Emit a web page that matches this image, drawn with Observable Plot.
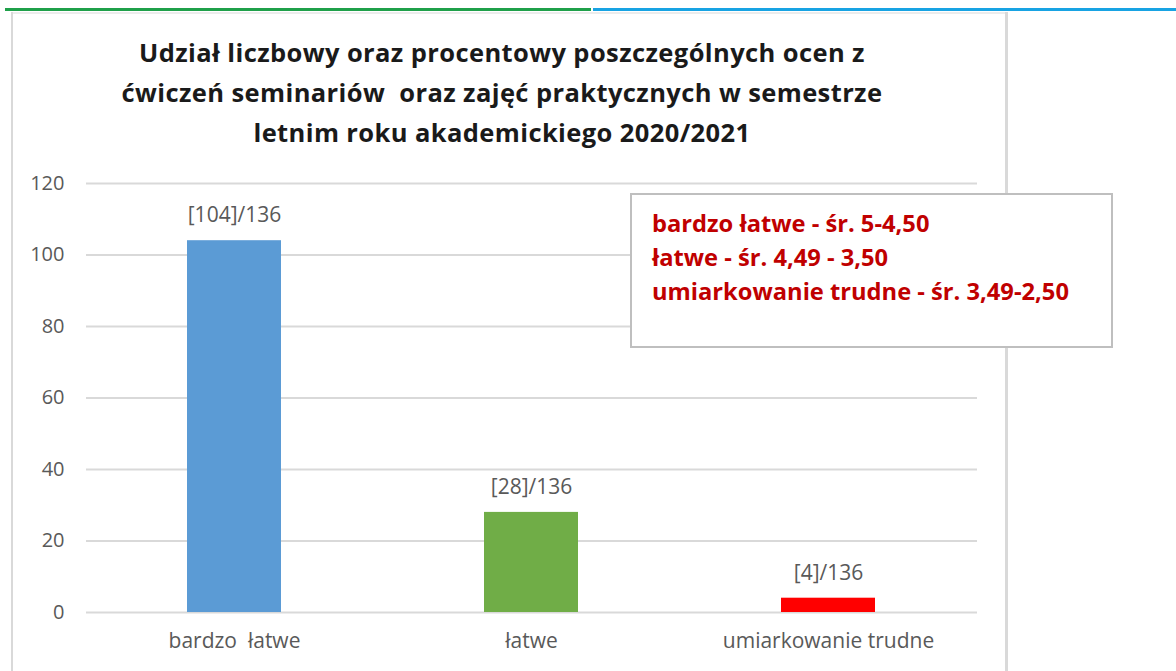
<!DOCTYPE html>
<html>
<head>
<meta charset="utf-8">
<script src="https://cdn.jsdelivr.net/npm/d3@7"></script>
<script src="https://cdn.jsdelivr.net/npm/@observablehq/plot@0.6"></script>
<style>
  html, body { margin: 0; padding: 0; background: #fff; }
  #wrap { position: relative; width: 1176px; height: 671px; overflow: hidden; font-family: "Open Sans", Lato, sans-serif; }
  #wrap svg { position: absolute; left: 0; top: 0; }
  .line-top { position: absolute; top: 8px; height: 3px; }
  .border { position: absolute; background: #d9d9d9; }
  #title { position: absolute; left: 0; width: 1004px; top: 32px; text-align: center; font-weight: bold; font-size: 25.5px; line-height: 40px; color: #1a1a1a; letter-spacing: 0.4px; }
  #legend { position: absolute; left: 630px; top: 193px; width: 479px; height: 151px; border: 2px solid #bfbfbf; background: #fff; box-sizing: content-box; }
  #legend div { color: #c00000; font-weight: bold; font-size: 23.7px; line-height: 34px; }
  #legendInner { position: absolute; left: 20px; top: 11px; }
</style>
</head>
<body>
<div id="wrap">
  <div class="line-top" style="left:5px;width:586px;background:#1fa04a;"></div>
  <div class="line-top" style="left:593px;width:583px;background:#18a3e3;"></div>
  <div class="border" style="left:11px;top:12px;width:996px;height:2px;background:#ececec;"></div>
  <div class="border" style="left:11px;top:12px;width:2px;height:659px;"></div>
  <div class="border" style="left:1005px;top:12px;width:3px;height:659px;"></div>
  <div id="title">Udział liczbowy oraz procentowy poszczególnych ocen z<br>ćwiczeń seminariów&nbsp; oraz zajęć praktycznych w semestrze<br>letnim roku akademickiego 2020/2021</div>
</div>
<script>
const categories = ["bardzo  łatwe", "łatwe", "umiarkowanie trudne"];
const counts = [104, 28, 4];
const total = 136;
const colors = ["#5b9bd5", "#70ad47", "#ff0000"];
const yTicks = [0, 20, 40, 60, 80, 100, 120];
const legendLines = [
  "bardzo łatwe - śr. 5-4,50",
  "łatwe - śr. 4,49 - 3,50",
  "umiarkowanie trudne - śr. 3,49-2,50"
];

const data = categories.map((c, i) => ({cat: c, value: counts[i], color: colors[i], label: `[${counts[i]}]/${total}`}));

const chart = Plot.plot({
  width: 1176,
  height: 671,
  marginLeft: 86,
  marginRight: 199,
  marginTop: 183,
  marginBottom: 59,
  style: {fontFamily: "'Open Sans', Lato, sans-serif", fontSize: "20px", color: "#595959", background: "transparent", overflow: "visible"},
  x: {domain: categories, paddingInner: 0.683, paddingOuter: 0.3415, label: null},
  y: {domain: [0, 120], label: null},
  marks: [
    Plot.gridY(yTicks, {stroke: "#d9d9d9", strokeOpacity: 1, strokeWidth: 2}),
    Plot.barY(data, {x: "cat", y: "value", fill: "color"}),
    Plot.text(data, {x: "cat", y: "value", text: "label", dy: -25, fill: "#595959", fontSize: 21}),
    Plot.axisX({tickSize: 0, tickPadding: 21, fill: "#595959", fontSize: 21}),
    Plot.axisY(yTicks, {tickSize: 0, tickPadding: 22, fill: "#595959", fontSize: 20})
  ]
});
const wrap = document.getElementById("wrap");
wrap.insertBefore(chart, document.getElementById("title"));

const legend = document.createElement("div");
legend.id = "legend";
const inner = document.createElement("div");
inner.id = "legendInner";
legendLines.forEach(t => { const d = document.createElement("div"); d.textContent = t; inner.appendChild(d); });
legend.appendChild(inner);
wrap.appendChild(legend);
</script>
</body>
</html>
